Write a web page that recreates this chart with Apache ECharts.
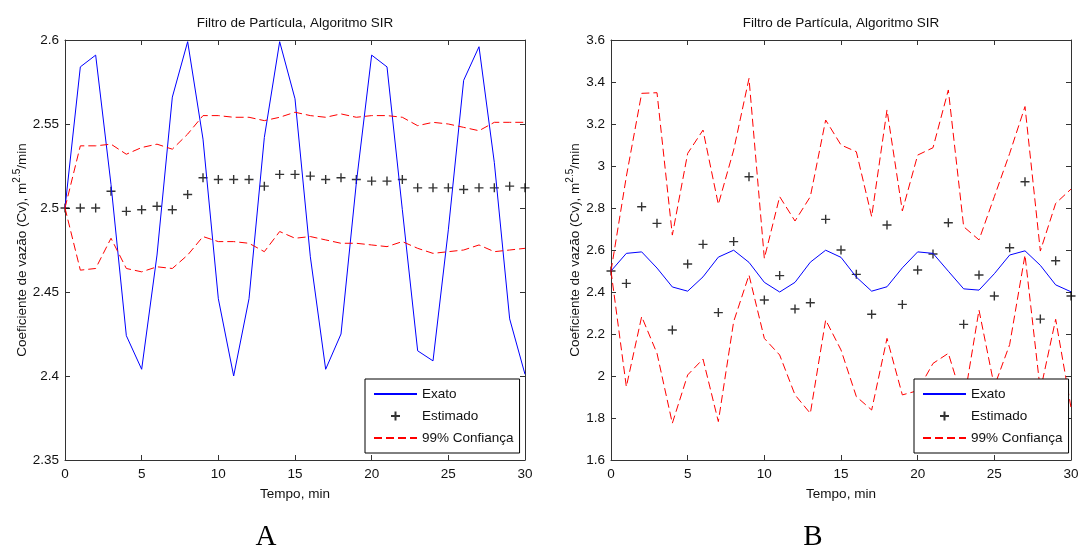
<!DOCTYPE html>
<html>
<head>
<meta charset="utf-8">
<script src="https://cdn.jsdelivr.net/npm/echarts@6/dist/echarts.min.js"></script>
<style>
html,body{margin:0;padding:0;background:#fff;}
#chart{width:1084px;height:550px;}
</style>
</head>
<body>
<div id="chart"></div>
<script>
// ---- data ----
const tempo = [0,1,2,3,4,5,6,7,8,9,10,11,12,13,14,15,16,17,18,19,20,21,22,23,24,25,26,27,28,29,30];
const xTicks = {min: 0, max: 30, interval: 5};
const yTicksA = {min: 2.35, max: 2.6, interval: 0.05};
const yTicksB = {min: 1.6, max: 3.6, interval: 0.2};

const exatoA = [2.500,2.584,2.591,2.514,2.424,2.404,2.472,2.566,2.599,2.541,2.446,2.400,2.446,2.542,2.599,2.565,2.471,2.404,2.425,2.515,2.591,2.584,2.499,2.415,2.409,2.487,2.576,2.596,2.527,2.434,2.401];
const estimadoA = [2.500,2.500,2.500,2.510,2.498,2.499,2.501,2.499,2.508,2.518,2.517,2.517,2.517,2.513,2.520,2.520,2.519,2.517,2.518,2.517,2.516,2.516,2.517,2.512,2.512,2.512,2.511,2.512,2.512,2.513,2.512];
const supA = [2.500,2.537,2.537,2.538,2.532,2.536,2.538,2.535,2.544,2.555,2.555,2.554,2.554,2.552,2.554,2.557,2.555,2.554,2.556,2.554,2.555,2.555,2.554,2.549,2.551,2.550,2.548,2.546,2.551,2.551,2.551];
const infA = [2.500,2.463,2.464,2.482,2.464,2.462,2.465,2.464,2.472,2.483,2.480,2.480,2.479,2.474,2.486,2.482,2.483,2.481,2.479,2.479,2.478,2.477,2.480,2.476,2.473,2.474,2.475,2.478,2.474,2.475,2.476];

const exatoB = [2.500,2.584,2.591,2.514,2.424,2.404,2.472,2.566,2.599,2.541,2.446,2.400,2.446,2.542,2.599,2.565,2.471,2.404,2.425,2.515,2.591,2.584,2.499,2.415,2.409,2.487,2.576,2.596,2.527,2.434,2.401];
const estimadoB = [2.500,2.441,2.806,2.727,2.219,2.533,2.627,2.302,2.640,2.949,2.362,2.478,2.319,2.349,2.746,2.600,2.484,2.294,2.719,2.341,2.505,2.581,2.730,2.246,2.481,2.381,2.611,2.925,2.271,2.549,2.381];
const supB = [2.500,2.950,3.346,3.349,2.671,3.060,3.171,2.817,3.076,3.417,2.560,2.854,2.738,2.854,3.219,3.100,3.068,2.759,3.267,2.786,3.052,3.087,3.362,2.711,2.648,2.854,3.060,3.283,2.595,2.822,2.890];
const infB = [2.500,1.949,2.283,2.108,1.775,2.005,2.081,1.783,2.259,2.481,2.179,2.100,1.910,1.822,2.267,2.124,1.902,1.838,2.179,1.910,1.930,2.060,2.108,1.870,2.314,1.950,2.150,2.576,1.930,2.270,1.850];

const titleText = 'Filtro de Partícula, Algoritmo SIR';
const xName = 'Tempo, min';
const yName = '{a|Coeficiente de vazão (Cv), m}{s|2.5}{a|/min}';
const seriesNames = ['Exato', 'Estimado', '99% Confiança'];
const panelLabels = ['A', 'B'];

// ---- styling ----
const FONT = "'Liberation Sans',Arial,sans-serif";
const SERIF = "'Liberation Serif','Times New Roman',serif";
const AX = '#333333';
const TXT = '#111111';
const FS = 13.5;
const PLUS = 'path://M5,0L5,10M0,5L10,5';
const HIDE = {color: 'rgba(0,0,0,0)', borderColor: 'rgba(0,0,0,0)', borderWidth: 0};

function pairs(xs, ys) { return xs.map((x, i) => [x, ys[i]]); }

function xAxisPair(g) {
  const common = {
    type: 'value', gridIndex: g, min: xTicks.min, max: xTicks.max, interval: xTicks.interval,
    axisLine: {onZero: false, lineStyle: {color: AX, width: 1}},
    axisTick: {inside: true, length: 5, lineStyle: {color: AX, width: 1}},
    splitLine: {show: false}
  };
  return [
    Object.assign({}, common, {
      position: 'bottom',
      axisLabel: {color: TXT, fontSize: FS, fontFamily: FONT, margin: 7},
      name: xName, nameLocation: 'middle', nameGap: 27,
      nameTextStyle: {color: TXT, fontSize: FS, fontFamily: FONT}
    }),
    Object.assign({}, common, {position: 'top', axisLabel: {show: false}})
  ];
}

function yAxisPair(g, ticks, gap) {
  const common = {
    type: 'value', gridIndex: g, min: ticks.min, max: ticks.max, interval: ticks.interval,
    axisLine: {onZero: false, lineStyle: {color: AX, width: 1}},
    axisTick: {inside: true, length: 5, lineStyle: {color: AX, width: 1}},
    splitLine: {show: false}
  };
  return [
    Object.assign({}, common, {
      position: 'left',
      axisLabel: {color: TXT, fontSize: FS, fontFamily: FONT, margin: 6},
      name: yName, nameLocation: 'middle', nameRotate: 90, nameGap: gap,
      nameTextStyle: {
        color: TXT, fontSize: FS, fontFamily: FONT,
        rich: {
          a: {color: TXT, fontSize: FS, fontFamily: FONT, lineHeight: 17, verticalAlign: 'bottom'},
          s: {color: TXT, fontSize: 10, fontFamily: FONT, lineHeight: 10, verticalAlign: 'top'}
        }
      }
    }),
    Object.assign({}, common, {position: 'right', axisLabel: {show: false}})
  ];
}

function panelSeries(xi, yi, exato, est, sup, inf) {
  const line = (name, data, color, type) => ({
    type: 'line', name, xAxisIndex: xi, yAxisIndex: yi, data,
    symbol: 'none', showSymbol: false, silent: true,
    lineStyle: {color, width: 1, type: type},
    itemStyle: {color}
  });
  return [
    line(seriesNames[0], pairs(tempo, exato), '#0000ff', 'solid'),
    {
      type: 'scatter', name: seriesNames[1], xAxisIndex: xi, yAxisIndex: yi,
      data: pairs(tempo, est), symbol: PLUS, symbolSize: 9, silent: true,
      itemStyle: {color: 'rgba(0,0,0,0)', borderColor: '#000', borderWidth: 1.4}
    },
    line(seriesNames[2], pairs(tempo, sup), '#ff0000', [8, 4]),
    line(seriesNames[2], pairs(tempo, inf), '#ff0000', [8, 4])
  ];
}

function legendAt(left, top) {
  return {
    orient: 'vertical', left, top,
    data: [
      {name: seriesNames[0], itemStyle: HIDE},
      {name: seriesNames[1]},
      {name: seriesNames[2], itemStyle: HIDE}
    ],
    itemWidth: 43, itemHeight: 9, itemGap: 0,
    padding: [4, 6, 4, 8],
    borderColor: '#000', borderWidth: 1, backgroundColor: '#fff',
    selectedMode: false,
    textStyle: {color: TXT, fontSize: FS, fontFamily: FONT, lineHeight: 22}
  };
}

const chart = echarts.init(document.getElementById('chart'), null, {renderer: 'canvas'});
chart.setOption({
  animation: false,
  backgroundColor: '#fff',
  title: [
    {text: titleText, left: 295, top: 16, textAlign: 'center', padding: 0,
     textStyle: {fontSize: FS, fontWeight: 'normal', fontFamily: FONT, color: TXT}},
    {text: titleText, left: 841, top: 16, textAlign: 'center', padding: 0,
     textStyle: {fontSize: FS, fontWeight: 'normal', fontFamily: FONT, color: TXT}},
    {text: panelLabels[0], left: 266, top: 523, textAlign: 'center', padding: 0,
     textStyle: {fontSize: 29, fontWeight: 'normal', fontFamily: SERIF, color: '#000'}},
    {text: panelLabels[1], left: 813, top: 523, textAlign: 'center', padding: 0,
     textStyle: {fontSize: 29, fontWeight: 'normal', fontFamily: SERIF, color: '#000'}}
  ],
  grid: [
    {left: 65, top: 40, width: 460, height: 420},
    {left: 611, top: 40, width: 460, height: 420}
  ],
  legend: [legendAt(365, 379), legendAt(914, 379)],
  xAxis: [].concat(xAxisPair(0), xAxisPair(1)),
  yAxis: [].concat(yAxisPair(0, yTicksA, 32), yAxisPair(1, yTicksB, 29)),
  series: [].concat(
    panelSeries(0, 0, exatoA, estimadoA, supA, infA),
    panelSeries(2, 2, exatoB, estimadoB, supB, infB)
  )
});
</script>
</body>
</html>
